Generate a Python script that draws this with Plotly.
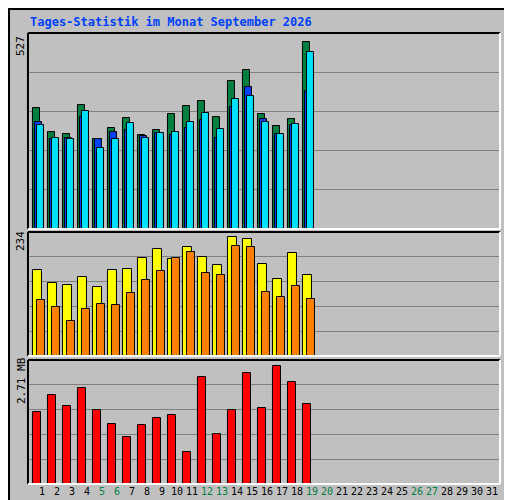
import plotly.graph_objects as go

days = list(range(1, 32))
data_days = list(range(1, 20))
hits  = [340,274,268,348,252,285,312,265,279,323,345,359,315,417,447,323,290,309,527]
files = [301,253,257,315,252,274,277,261,271,265,285,307,257,343,398,309,268,293,387]
pages = [293,257,254,332,227,254,298,257,271,274,301,326,282,365,373,301,268,296,497]
visits = [170,144,139,156,135,170,172,193,211,191,215,195,180,234,230,182,152,203,160]
sites  = [111,96,68,92,103,101,123,150,168,193,205,164,160,217,215,125,117,137,113]
vol_raw = [217,268,235,292,223,181,142,178,199,208,97,325,151,223,337,229,358,310,241]
volume = [round(v*2.71/358, 3) for v in vol_raw]
weekend = {5,6,12,13,19,20,26,27}
ticktext = [f'<span style="color:#008040">{d}</span>' if d in weekend else str(d) for d in days]

line = dict(color="black", width=1)
fig = go.Figure()
def bar(y, color, off, w, ax):
    fig.add_trace(go.Bar(x=data_days, y=y, offset=off, width=w, marker=dict(color=color, line=line),
                         xaxis=ax[0], yaxis=ax[1], showlegend=False, hoverinfo="y"))
bar(hits, "#008040", -0.58, 0.47, ("x", "y"))
bar(files, "#0040FF", -0.45, 0.47, ("x", "y"))
bar(pages, "#00E0FF", -0.33, 0.47, ("x", "y"))
bar(visits, "#FFFF00", -0.58, 0.56, ("x2", "y2"))
bar(sites, "#FF8000", -0.31, 0.49, ("x2", "y2"))
bar(volume, "#FF0000", -0.58, 0.49, ("x3", "y3"))

xr = [0.067, 31.53]
grid = dict(showgrid=True, gridcolor="#808080", gridwidth=1, showticklabels=False, zeroline=False,
            fixedrange=True, automargin=False)
xb = dict(domain=[0.039, 0.961], range=xr, showgrid=False, zeroline=False, automargin=False)
M1, M2, M3 = 551, 244, 2.84
fig.update_layout(
    width=512, height=500, margin=dict(l=0, r=0, t=0, b=0, autoexpand=False),
    paper_bgcolor="#C0C0C0", plot_bgcolor="#C0C0C0", bargap=0,
    font=dict(family="DejaVu Sans Mono", size=11, color="black"),
    xaxis=dict(anchor="y", showticklabels=False, **xb),
    xaxis2=dict(anchor="y2", showticklabels=False, **xb),
    xaxis3=dict(anchor="y3", tickmode="array", tickvals=days, ticktext=ticktext, tickangle=0, ticks="",
                ticklen=0, tickfont=dict(size=10, family="DejaVu Sans Mono"), **xb),
    yaxis=dict(domain=[0.558, 0.95], range=[0, M1], dtick=M1/5, **grid),
    yaxis2=dict(domain=[0.304, 0.552], range=[0, M2], dtick=M2/5, **grid),
    yaxis3=dict(domain=[0.048, 0.296], range=[0, M3], dtick=M3/5, **grid),
)
shapes = []
for y0, y1 in [(0.558, 0.95), (0.304, 0.552), (0.048, 0.296)]:
    shapes.append(dict(type="line", xref="paper", yref="paper", x0=0.039, x1=0.039, y0=y0, y1=y1, line=dict(color="black", width=2)))
    shapes.append(dict(type="line", xref="paper", yref="paper", x0=0.039, x1=0.961, y0=y1, y1=y1, line=dict(color="black", width=2)))
    shapes.append(dict(type="line", xref="paper", yref="paper", x0=0.039, x1=0.961, y0=y0, y1=y0, line=dict(color="white", width=2)))
    shapes.append(dict(type="line", xref="paper", yref="paper", x0=0.961, x1=0.961, y0=y0, y1=y1, line=dict(color="white", width=2)))
shapes.append(dict(type="rect", xref="paper", yref="paper", x0=0.002, x1=0.998, y0=0.002, y1=0.998, line=dict(color="black", width=2)))
fig.update_layout(shapes=shapes)

ann = [
    dict(text="<b>Tages-Statistik im Monat September 2026</b>", x=20/512, y=1-14/500, xanchor="left", yanchor="middle",
         font=dict(color="#0040FF", size=12, family="DejaVu Sans Mono")),
    dict(text="527", x=13/512, y=1-38/500, textangle=-90),
    dict(text="234", x=13/512, y=1-233/500, textangle=-90),
    dict(text="2.71 MB", x=13/512, y=1-373/500, textangle=-90),
]
sep = '<span style="color:black"> / </span>'
parts = [("Volumen", "#FF0000"), ("Vol. In", "#0040FF"), ("Vol. Out", "#008080"), ("Rechner", "#FF8000"),
         ("Besuche", "#FFFF00"), ("Seiten", "#00E0FF"), ("Dateien", "#0040FF"), ("Anfragen", "#008040")]
label = sep.join(f'<span style="color:{c}">{t}</span>' for t, c in parts)
ann.append(dict(text=label, x=501/512, y=1-250/500, textangle=-90, font=dict(size=10.5)))
for a in ann:
    a.setdefault("xref", "paper"); a.setdefault("yref", "paper"); a.setdefault("showarrow", False)
    a.setdefault("xanchor", "center"); a.setdefault("yanchor", "middle")
fig.update_layout(annotations=ann)
fig.write_html("out.html")
